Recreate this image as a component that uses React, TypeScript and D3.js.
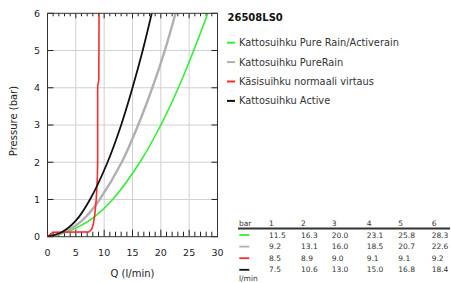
import * as d3 from 'd3';

const title = '26508LS0';
const seriesNames = [
  'Kattosuihku Pure Rain/Activerain',
  'Kattosuihku PureRain',
  'Käsisuihku normaali virtaus',
  'Kattosuihku Active',
];
const seriesColors = ['#33ee33', '#b0b0b0', '#ff2a2a', '#111111'];

// table: flow (l/min) at each pressure (bar)
const pressures = [1, 2, 3, 4, 5, 6];
const tableGreen = ['11.5', '16.3', '20.0', '23.1', '25.8', '28.3'];
const tableGray = ['9.2', '13.1', '16.0', '18.5', '20.7', '22.6'];
const tableRed = ['8.5', '8.9', '9.0', '9.1', '9.1', '9.2'];
const tableBlack = ['7.5', '10.6', '13.0', '15.0', '16.8', '18.4'];

// curve points [Q, p]
const greenCurve: [number, number][] = [
  [0, 0], [2.5, 0.08], [5, 0.23], [8, 0.5], [11.5, 1], [16.3, 2], [20, 3], [23.1, 4], [25.8, 5], [28.3, 6],
];
const grayCurve: [number, number][] = [
  [0, 0], [2.5, 0.1], [5, 0.3], [7, 0.57], [9.2, 1], [13.1, 2], [16, 3], [18.5, 4], [20.7, 5], [22.6, 6],
];
const blackCurve: [number, number][] = [
  [0, 0], [2.5, 0.12], [5, 0.43], [7.5, 1], [10.6, 2], [13, 3], [15, 4], [16.8, 5], [18.4, 6],
];
const redCurve: [number, number][] = [
  [0, 0], [1, 0.12], [7.3, 0.13], [7.8, 0.2], [8.1, 0.35], [8.35, 0.6], [8.6, 1.0], [8.8, 1.6],
  [8.85, 2.0], [8.85, 4.05], [9.05, 4.2], [9.1, 6],
];

const xTicks = [0, 5, 10, 15, 20, 25, 30];
const yTicks = [0, 1, 2, 3, 4, 5, 6];

const W = 451;
const H = 283;
const m = { left: 47.5, right: 217.5, top: 13.3, bottom: 236.7 };
const font = 'DejaVu Sans, sans-serif';

export default function App() {
  const x = d3.scaleLinear().domain([0, 30]).range([m.left, m.right]);
  const y = d3.scaleLinear().domain([0, 6]).range([m.bottom, m.top]);

  const smooth = d3.line<[number, number]>()
    .x(d => x(d[0]))
    .y(d => y(d[1]))
    .curve(d3.curveCatmullRom.alpha(0.5));
  const straight = d3.line<[number, number]>()
    .x(d => x(d[0]))
    .y(d => y(d[1]));

  const minor = d3.range(0, 31, 1);
  const rows = [tableGreen, tableGray, tableRed, tableBlack];
  const colX = [269, 301, 331.7, 366.7, 398.3, 431.7];

  return (
    <svg width={W} height={H} style={{ position: 'absolute', left: 0, top: 0, background: '#fff' }} fontFamily={font}>
      <defs>
        <clipPath id="plot">
          <rect x={m.left} y={m.top} width={m.right - m.left} height={m.bottom - m.top} />
        </clipPath>
      </defs>
      {/* grid */}
      {xTicks.slice(1, -1).map(t => (
        <line key={'gx' + t} x1={x(t)} x2={x(t)} y1={m.top} y2={m.bottom} stroke="#d0d0d0" strokeWidth={1} />
      ))}
      {yTicks.slice(1, -1).map(t => (
        <line key={'gy' + t} x1={m.left} x2={m.right} y1={y(t)} y2={y(t)} stroke="#d0d0d0" strokeWidth={1} />
      ))}
      {/* minor ticks */}
      {minor.map(t => (
        <g key={'mt' + t}>
          <line x1={x(t)} x2={x(t)} y1={m.bottom} y2={m.bottom - (t % 5 === 0 ? 7 : 5)} stroke="#222" />
          <line x1={x(t)} x2={x(t)} y1={m.top} y2={m.top + (t % 5 === 0 ? 5 : 3)} stroke="#222" />
        </g>
      ))}
      {yTicks.map(t => (
        <g key={'yt' + t}>
          <line x1={m.left} x2={m.left + 6} y1={y(t)} y2={y(t)} stroke="#222" />
          <line x1={m.right} x2={m.right - 6} y1={y(t)} y2={y(t)} stroke="#222" />
          <text x={40} y={y(t) + 3.3} fontSize={9.5} textAnchor="end" fill="#222">{t}</text>
        </g>
      ))}
      {xTicks.map(t => (
        <text key={'xl' + t} x={x(t)} y={256} fontSize={9.5} textAnchor="middle" fill="#222">{t}</text>
      ))}
      {/* curves */}
      <g clipPath="url(#plot)" fill="none" strokeLinejoin="round">
        <path d={smooth(greenCurve) || ''} stroke={seriesColors[0]} strokeWidth={1.6} />
        <path d={smooth(grayCurve) || ''} stroke={seriesColors[1]} strokeWidth={2.4} />
        <path d={straight(redCurve) || ''} stroke={seriesColors[2]} strokeWidth={1.6} />
        <path d={smooth(blackCurve) || ''} stroke={seriesColors[3]} strokeWidth={1.8} />
      </g>
      <rect x={m.left} y={m.top} width={m.right - m.left} height={m.bottom - m.top} fill="none" stroke="#333" strokeWidth={1} />
      {/* axis titles */}
      <text x={(m.left + m.right) / 2} y={276.5} fontSize={10} textAnchor="middle" fill="#222">Q (l/min)</text>
      <text transform={`translate(17,${(m.top + m.bottom) / 2 - 4}) rotate(-90)`} fontSize={10} textAnchor="middle" fill="#222">Pressure (bar)</text>
      {/* legend */}
      <text x={227.5} y={21} fontSize={10} fontWeight="bold" fill="#111">{title}</text>
      {seriesNames.map((n, i) => (
        <g key={n}>
          <line x1={227} x2={235} y1={42.7 + i * 19.4} y2={42.7 + i * 19.4} stroke={seriesColors[i]} strokeWidth={2} />
          <text x={239} y={46.2 + i * 19.4} fontSize={9.8} fill="#333">{n}</text>
        </g>
      ))}
      {/* table */}
      <g fontSize={7.5} fill="#333">
        <text x={239} y={225.7}>bar</text>
        {pressures.map((p, i) => (
          <text key={'h' + p} x={colX[i]} y={225.7}>{p}</text>
        ))}
        <line x1={238} x2={450} y1={228.5} y2={228.5} stroke="#333" strokeWidth={2} />
        {rows.map((r, ri) => (
          <g key={'r' + ri}>
            <line x1={239.3} x2={249.3} y1={235 + ri * 11.6} y2={235 + ri * 11.6} stroke={seriesColors[ri]} strokeWidth={1.8} />
            {r.map((v, ci) => (
              <text key={ci} x={colX[ci]} y={237.5 + ri * 11.6}>{v}</text>
            ))}
          </g>
        ))}
        <text x={239} y={281}>l/min</text>
      </g>
    </svg>
  );
}
